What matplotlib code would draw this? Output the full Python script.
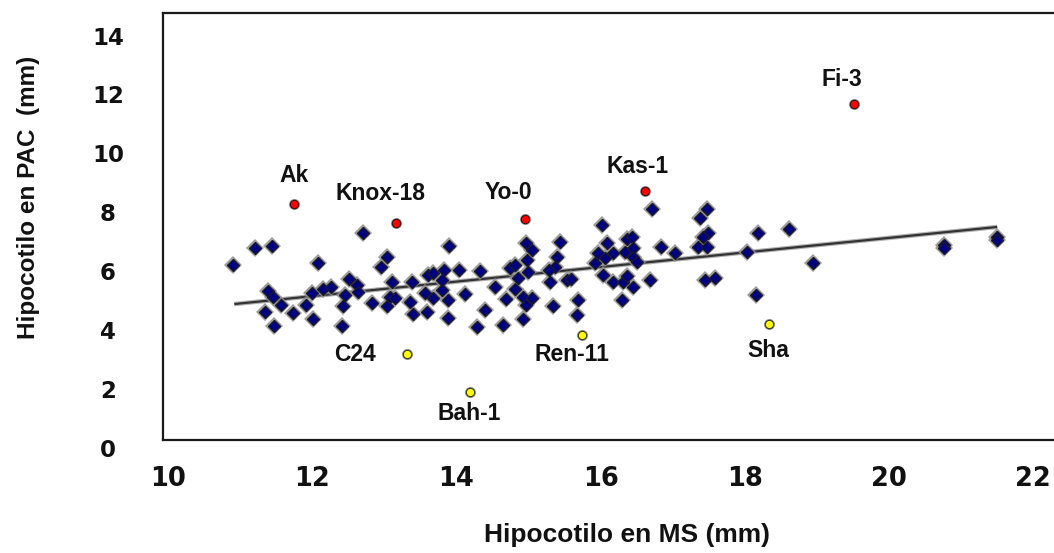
import numpy as np
import matplotlib
matplotlib.use('Agg')
import matplotlib.pyplot as plt

# accessions (blue diamonds): hypocotyl length in MS (x) and in PAC (y), mm
ms_len = [10.90, 11.21, 11.44, 12.70, 12.08, 13.04, 12.95, 11.39, 11.46, 11.57,
          11.35, 11.73, 11.91, 11.47, 12.01, 12.00, 12.15, 12.26, 12.41, 12.43,
          12.45, 12.51, 12.62, 12.64, 12.83, 13.04, 13.08, 13.11, 13.15,
          13.38, 13.36, 13.40, 13.56, 13.59, 13.61, 13.68, 13.68, 13.80, 13.83,
          13.80, 13.88, 13.88, 13.90, 14.04, 14.12, 14.33, 14.40, 14.29, 14.54,
          14.65, 14.69, 14.74, 14.81, 14.81, 14.85, 14.97, 15.05, 14.98, 14.99,
          14.92, 14.97, 15.05, 14.92, 15.44, 15.40, 15.37, 15.28, 15.30, 15.34,
          15.53,
          15.59, 15.69, 15.67, 16.02, 15.96, 15.92, 16.09, 16.06, 16.17, 16.03,
          16.17, 16.31, 16.37, 16.45, 16.30, 16.37, 16.44, 16.34, 16.45, 16.45,
          16.50, 16.69, 16.71, 16.84, 17.03, 17.35, 17.48, 17.38, 17.49, 17.42,
          17.48, 17.45, 17.59,
          18.03, 18.18, 18.61, 18.95, 18.16, 20.76, 20.76, 21.50, 21.50]
pac_len = [6.29, 6.86, 6.93, 7.37, 6.35, 6.56, 6.22, 5.40, 5.20, 4.93,
           4.69, 4.66, 4.93, 4.21, 4.45, 5.33, 5.47, 5.54, 4.21, 4.89,
           5.27, 5.81, 5.61, 5.37, 5.00, 4.89, 5.20, 5.71, 5.16,
           5.71, 5.03, 4.62, 5.33, 4.69, 5.95, 6.01, 5.16, 5.44, 6.12,
           5.78, 5.10, 4.49, 6.93, 6.12, 5.30, 6.08, 4.76, 4.18, 5.54,
           4.25, 5.13, 6.18, 6.29, 5.47, 5.84, 7.03, 6.80, 6.46, 6.05,
           5.20, 4.93, 5.16, 4.45, 7.07, 6.56, 6.22, 6.12, 5.71, 4.89,
           5.78,
           5.81, 5.10, 4.59, 7.65, 6.69, 6.35, 7.03, 6.52, 6.69, 5.95,
           5.71, 5.71, 5.91, 5.54, 5.10, 7.17, 7.24, 6.73, 6.86, 6.56,
           6.39, 5.78, 8.19, 6.90, 6.69, 6.90, 8.19, 7.88, 7.37, 7.24,
           6.90, 5.78, 5.84,
           6.73, 7.37, 7.51, 6.35, 5.27, 6.97, 6.86, 7.24, 7.14]

# labelled accessions: long in PAC (red) and short in PAC (yellow)
red_names = ['Ak', 'Knox-18', 'Yo-0', 'Kas-1', 'Fi-3']
red_ms = [11.75, 13.16, 14.95, 16.62, 19.51]
red_pac = [8.36, 7.71, 7.85, 8.80, 11.76]
yel_names = ['C24', 'Bah-1', 'Ren-11', 'Sha']
yel_ms = [13.31, 14.19, 15.74, 18.34]
yel_pac = [3.26, 1.97, 3.91, 4.28]

# trend line (linear fit) over the MS range
trend_x = [10.92, 21.50]
trend_slope = 0.2476
trend_icpt = 2.256

xticks = [10, 12, 14, 16, 18, 20, 22]
yticks = [0, 2, 4, 6, 8, 10, 12, 14]

# label offsets (pixels) from the point
red_off = [(0, 28), (-15, 30), (-16, 26), (-8, 25), (-12, 24)]
yel_off = [(-52, 0), (-1, -21), (-10, -20), (-1, -26)]

bold_arial = ['Liberation Sans', 'DejaVu Sans']

W, H = 1054, 553
fig = plt.figure(figsize=(W / 100, H / 100), dpi=100)
ax_l, ax_r, ax_t, ax_b = 163, 1070, 13, 440
ax = fig.add_axes([ax_l / W, (H - ax_b) / H, (ax_r - ax_l) / W, (ax_b - ax_t) / H])
ax.set_xlim(9.9307, 22.51)
ax.set_ylim(0.34, 14.85)

for s in ['left', 'top', 'bottom', 'right']:
    ax.spines[s].set_linewidth(1.6)
    ax.spines[s].set_color('#1a1a1a')

# trend line with soft grey blur
tx = np.array(trend_x)
ty = trend_icpt + trend_slope * tx
ax.plot(tx, ty, color='#b0b0b0', lw=3.2, zorder=2, solid_capstyle='butt')
ax.plot(tx, ty, color='#333333', lw=1.6, zorder=3, solid_capstyle='butt')

# blue accessions with grey halo
ax.plot(ms_len, pac_len, 'D', ms=9.0, color='#8c8c8c', alpha=0.85, zorder=4, markeredgewidth=0)
ax.plot(ms_len, pac_len, 'D', ms=6.6, markerfacecolor='#000080', markeredgecolor='#1a1a2a',
        markeredgewidth=1.0, zorder=5)

ax.plot(red_ms, red_pac, 'o', ms=8.0, color='#8c8c8c', alpha=0.85, zorder=4, markeredgewidth=0)
ax.plot(red_ms, red_pac, 'o', ms=6.0, markerfacecolor='#ff0000', markeredgecolor='#3a1010',
        markeredgewidth=0.8, zorder=6)
ax.plot(yel_ms, yel_pac, 'o', ms=8.0, color='#8c8c8c', alpha=0.85, zorder=4, markeredgewidth=0)
ax.plot(yel_ms, yel_pac, 'o', ms=6.0, markerfacecolor='#ffff00', markeredgecolor='#3a3a10',
        markeredgewidth=0.8, zorder=6)

for n, x, y, off in zip(red_names + yel_names, red_ms + yel_ms, red_pac + yel_pac, red_off + yel_off):
    ax.annotate(n, (x, y), xytext=off, textcoords='offset pixels', ha='center', va='center',
                fontsize=16.5, fontweight='bold', family=bold_arial, color='#111111')

# x ticks
ax.set_xticks(xticks)
ax.set_xticklabels([str(t) for t in xticks], fontsize=18.5, fontweight='bold',
                   family=['DejaVu Sans'], color='#111111')
ax.tick_params(axis='x', length=0, pad=19)
ax.set_yticks([])

# y tick labels sit on their own scale (slightly offset from frame, as in the original)
ax_w_px = ax_r - ax_l
for t in yticks:
    ax.text((108 - ax_l) / ax_w_px, t, str(t), transform=ax.get_yaxis_transform(),
            ha='center', va='center', fontsize=16.5, fontweight='bold',
            family=['DejaVu Sans'], color='#111111', clip_on=False)

fig.text(627 / W, 1 - 535 / H, 'Hipocotilo en MS (mm)', ha='center', va='center',
         fontsize=19, fontweight='bold', family=bold_arial, color='#111111')
fig.text(29 / W, 1 - 197 / H, 'Hipocotilo en PAC  (mm)', ha='center', va='center',
         rotation=90, fontsize=17.5, fontweight='bold', family=bold_arial, color='#111111')

fig.savefig('out.png', dpi=100)
